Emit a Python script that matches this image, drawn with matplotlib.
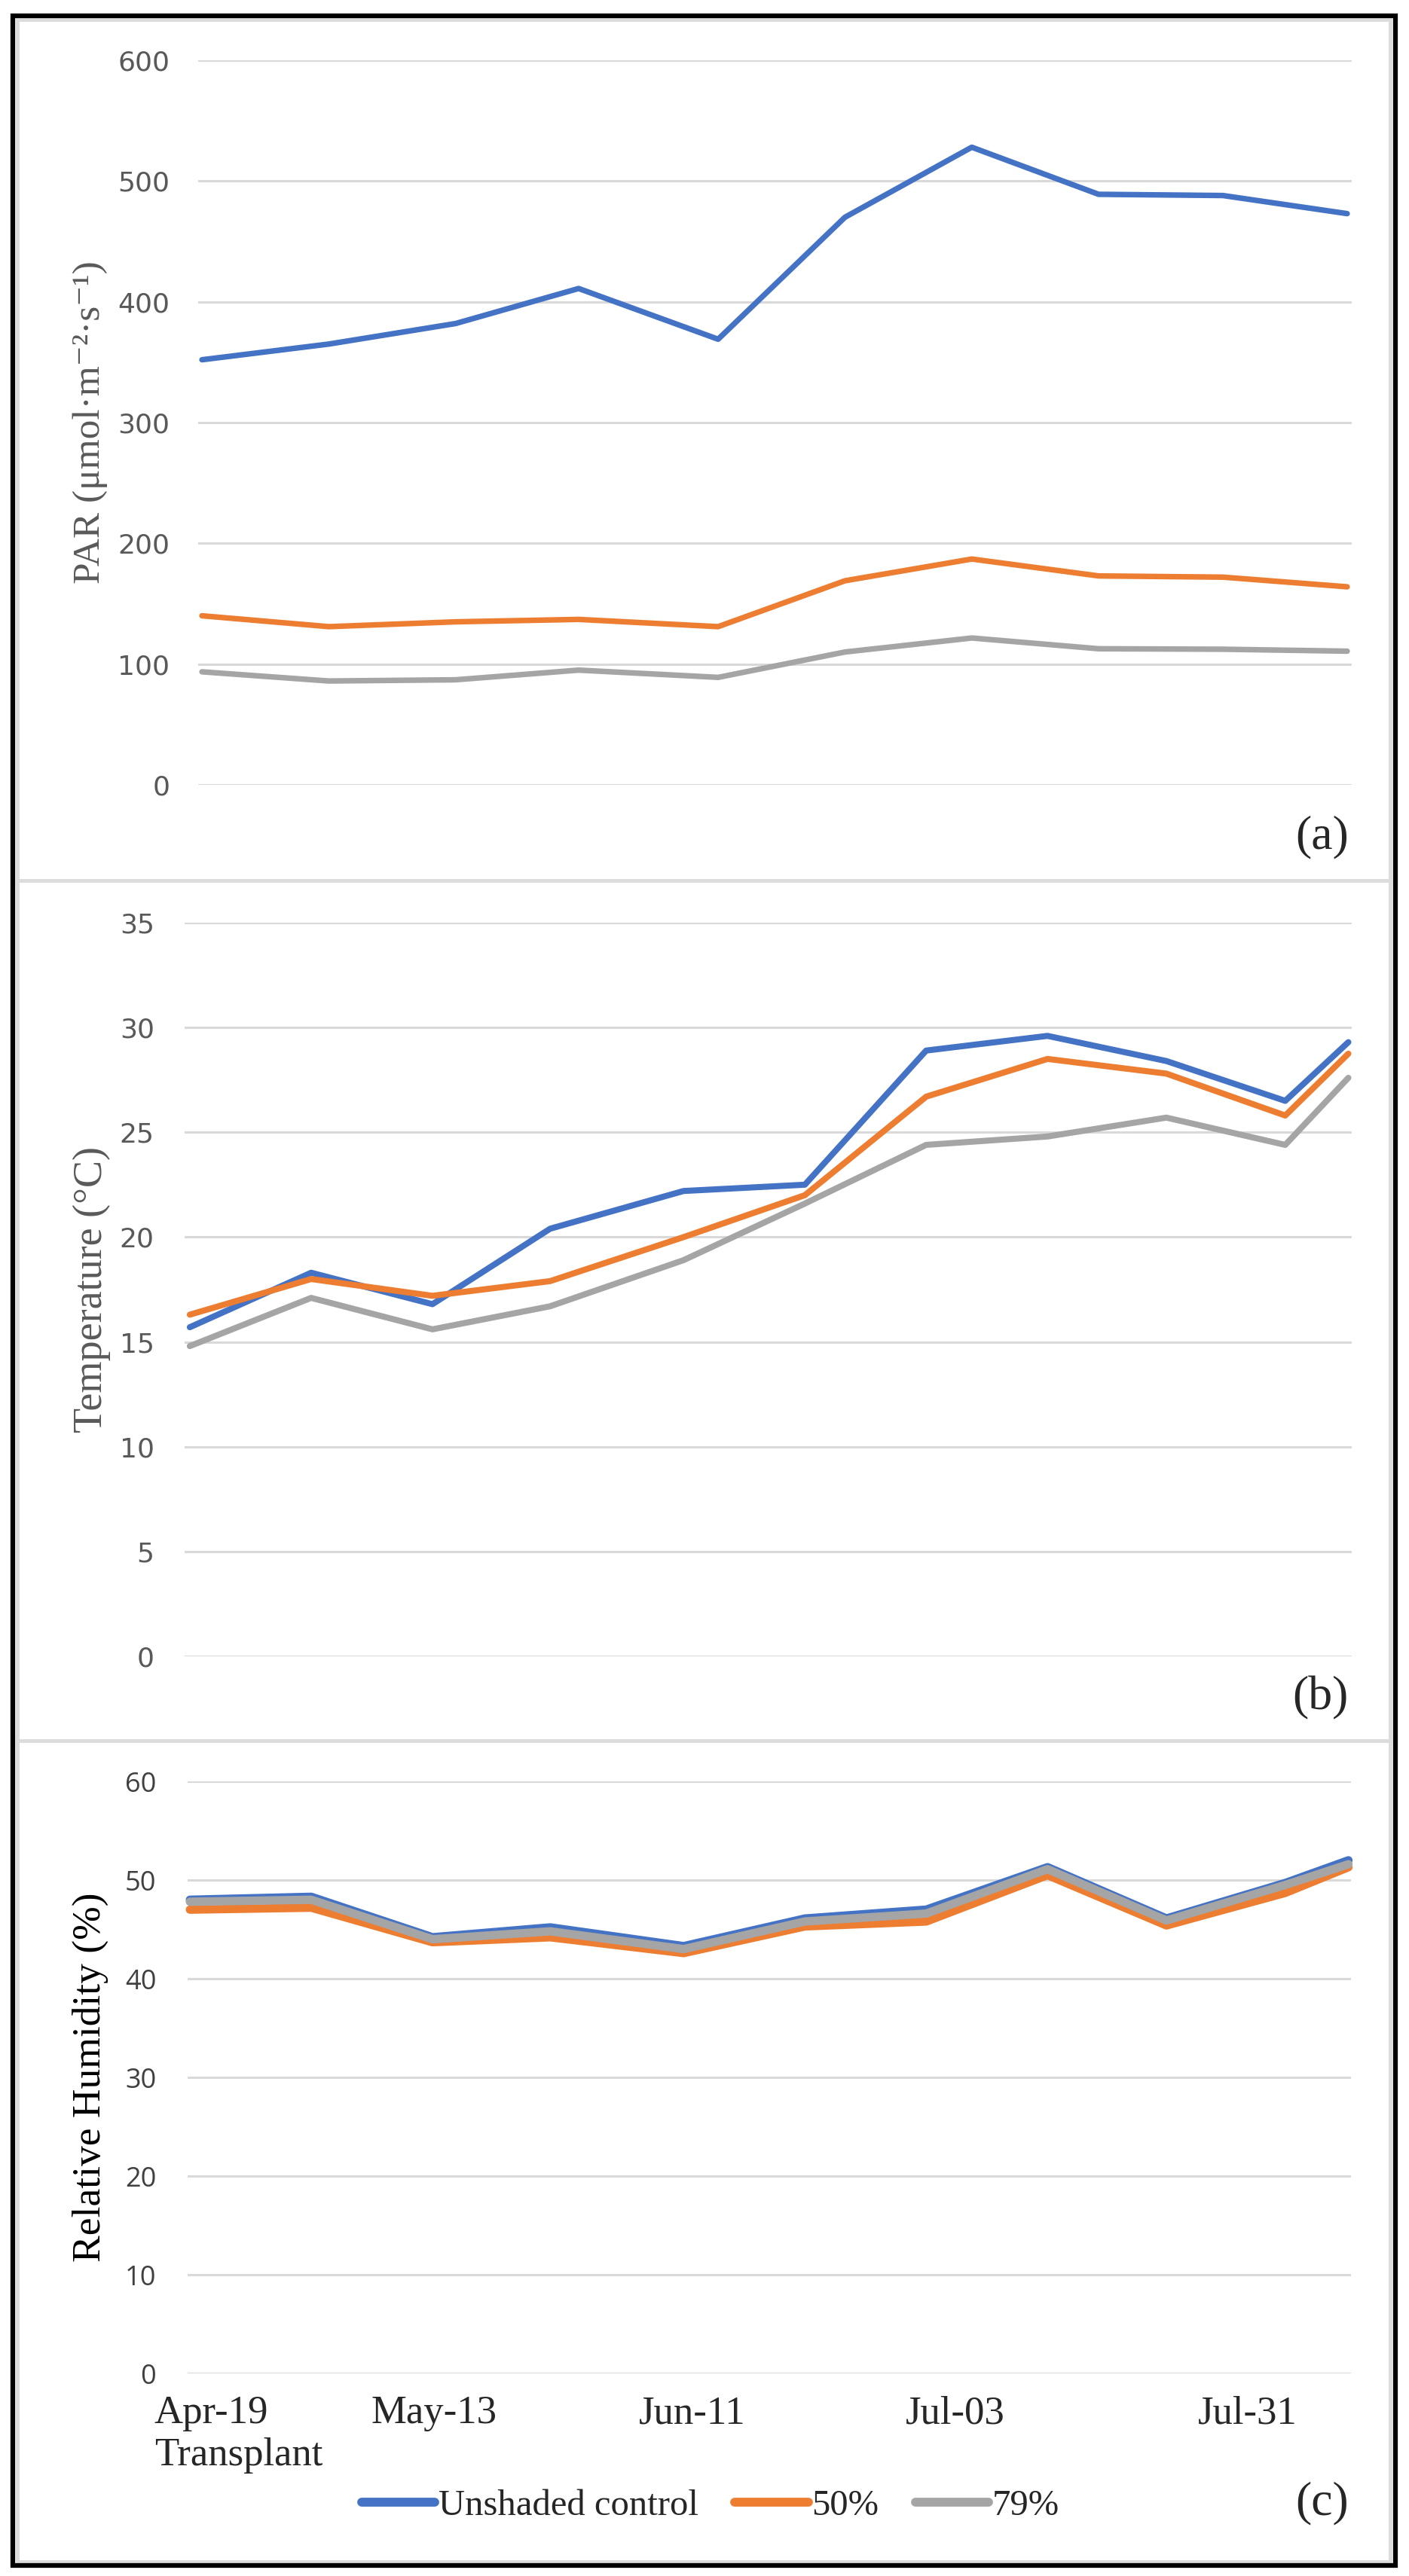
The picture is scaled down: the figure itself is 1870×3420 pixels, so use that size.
import matplotlib
matplotlib.use('Agg')
import matplotlib.pyplot as plt
from matplotlib.patches import Rectangle
from matplotlib.lines import Line2D

# ---- Data
# measurement dates as position on a common time scale (interval units)
date_pos = [0, 1.0, 2.0, 2.97, 4.07, 5.07, 6.07, 7.07, 8.05, 9.03, 9.55]

series_names = ['Unshaded control', '50%', '79%']
series_colors = ['#4472C4', '#ED7D31', '#A5A5A5']

# (a) PAR, first 10 dates only
par_control = [352, 365, 382, 411, 369, 470, 528, 489, 488, 473]
par_50 = [140, 131, 135, 137, 131, 169, 187, 173, 172, 164]
par_79 = [93.6, 86, 87, 95, 89, 110, 121.6, 112.7, 112.3, 110.7]

# (b) Temperature
temp_control = [15.7, 18.3, 16.8, 20.4, 22.2, 22.5, 28.9, 29.6, 28.4, 26.5, 29.3]
temp_50 = [16.3, 18.0, 17.2, 17.9, 20.0, 22.0, 26.7, 28.5, 27.8, 25.8, 28.75]
temp_79 = [14.8, 17.1, 15.6, 16.7, 18.9, 21.6, 24.4, 24.8, 25.7, 24.4, 27.6]

# (c) Relative humidity
rh_control = [48.0, 48.3, 44.2, 45.2, 43.3, 46.1, 47.0, 51.3, 46.1, 49.7, 52.0]
rh_50 = [47.0, 47.2, 43.7, 44.2, 42.6, 45.3, 45.8, 50.5, 45.4, 48.7, 51.3]
rh_79 = [47.8, 48.0, 44.0, 44.8, 43.0, 45.8, 46.6, 51.1, 45.9, 49.5, 51.6]

x_tick_pos = [0.40, 2.01, 4.14, 6.31, 8.72]
x_tick_labels = ['Apr-19\nTransplant', 'May-13', 'Jun-11', 'Jul-03', 'Jul-31']

par_ticks = [0, 100, 200, 300, 400, 500, 600]
temp_ticks = [0, 5, 10, 15, 20, 25, 30, 35]
rh_ticks = [0, 10, 20, 30, 40, 50, 60]

SERIF = ['Liberation Serif', 'DejaVu Serif']
W, H = 1870, 3420

fig = plt.figure(figsize=(W / 100, H / 100), dpi=100)


def px_axes(left, top, right, bottom):
    return fig.add_axes([left / W, 1 - bottom / H, (right - left) / W, (bottom - top) / H])


def style_axes(ax, ticks, pad, tick_font, tick_color):
    ax.set_ylim(ticks[0], ticks[-1])
    ax.set_yticks(ticks)
    ax.grid(axis='y', color='#d9d9d9', linewidth=2.2)
    ax.set_axisbelow(True)
    for s in ax.spines.values():
        s.set_visible(False)
    ax.tick_params(axis='y', length=0, pad=pad, labelsize=26, labelcolor=tick_color)
    for lab in ax.get_yticklabels():
        lab.set_family(tick_font)
    ax.tick_params(axis='x', length=0)


def draw_lines(ax, x, ys, lw):
    for y, c in zip(ys, series_colors):
        ax.plot(x, y, color=c, linewidth=lw, solid_capstyle='round',
                solid_joinstyle='round', clip_on=False)


# ---- Panel (a) PAR
ax1 = px_axes(263, 80, 1794, 1042)
draw_lines(ax1, date_pos[:10], [par_control, par_50, par_79], 5.3)
ax1.set_xlim(-0.030, 9.066)
style_axes(ax1, par_ticks, 27, 'DejaVu Sans', '#595959')
ax1.set_xticks([])
fig.text(120 / W, 1 - 561 / H, 'PAR (\u03bcmol\u00b7m\u207b\u00b2\u00b7s\u207b\u00b9)', rotation=90,
         ha='center', va='center', fontsize=37, color='#595959', family=SERIF)

# ---- Panel (b) Temperature
ax2 = px_axes(245, 1225, 1794, 2199)
draw_lines(ax2, date_pos, [temp_control, temp_50, temp_79], 5.8)
ax2.set_xlim(-0.043, 9.578)
style_axes(ax2, temp_ticks, 29, 'DejaVu Sans', '#595959')
ax2.set_xticks([])
fig.text(122 / W, 1 - 1712 / H, 'Temperature (\u00b0C)', rotation=90,
         ha='center', va='center', fontsize=39, color='#595959', family=SERIF)

# ---- Panel (c) Relative humidity
ax3 = px_axes(249, 2365, 1793, 3151)
draw_lines(ax3, date_pos, [rh_control, rh_50, rh_79], 8)
ax3.set_xlim(-0.019, 9.571)
style_axes(ax3, rh_ticks, 30, 'Open Sans', '#404040')
ax3.set_xticks(x_tick_pos, x_tick_labels)
ax3.tick_params(axis='x', pad=21, labelsize=38, labelcolor='#262626')
for lab in ax3.get_xticklabels():
    lab.set_family(SERIF)
ax3.get_xticklabels()[0].set_multialignment('left')
fig.text(120 / W, 1 - 2758 / H, 'Relative Humidity (%)', rotation=90,
         ha='center', va='center', fontsize=38.5, color='black', family=SERIF)

# ---- Legend
handles = [Line2D([], [], color=c, linewidth=8.5, solid_capstyle='round') for c in series_colors]
fig.legend(handles, series_names, loc='center', bbox_to_anchor=(943 / W, 1 - 3327 / H),
           ncol=3, frameon=False, handlelength=2.0, handletextpad=0.1, columnspacing=1.0,
           prop={'family': SERIF, 'size': 35}, labelcolor='#262626')

# ---- Panel letters
for lab, yc in [('(a)', 1111), ('(b)', 2254), ('(c)', 3323)]:
    fig.text(1790 / W, 1 - yc / H, lab, ha='right', va='center', fontsize=46,
             color='#262626', family=SERIF)

# ---- Frames and panel dividers
fig.patches.append(Rectangle((22.5 / W, 1 - 3401 / H), (1845 - 22.5) / W, (3401 - 26.5) / H,
                             transform=fig.transFigure, fill=False, ec='#dcdcdc', lw=3.5))
for yd in [1169, 2311]:
    fig.add_artist(Line2D([22 / W, 1846 / W], [1 - yd / H, 1 - yd / H],
                          transform=fig.transFigure, color='#dcdcdc', lw=3.5))
fig.patches.append(Rectangle((17 / W, 1 - 3406 / H), (1852 - 17) / W, (3406 - 21) / H,
                             transform=fig.transFigure, fill=False, ec='black', lw=4.5))

fig.savefig('out.png', dpi=100)
